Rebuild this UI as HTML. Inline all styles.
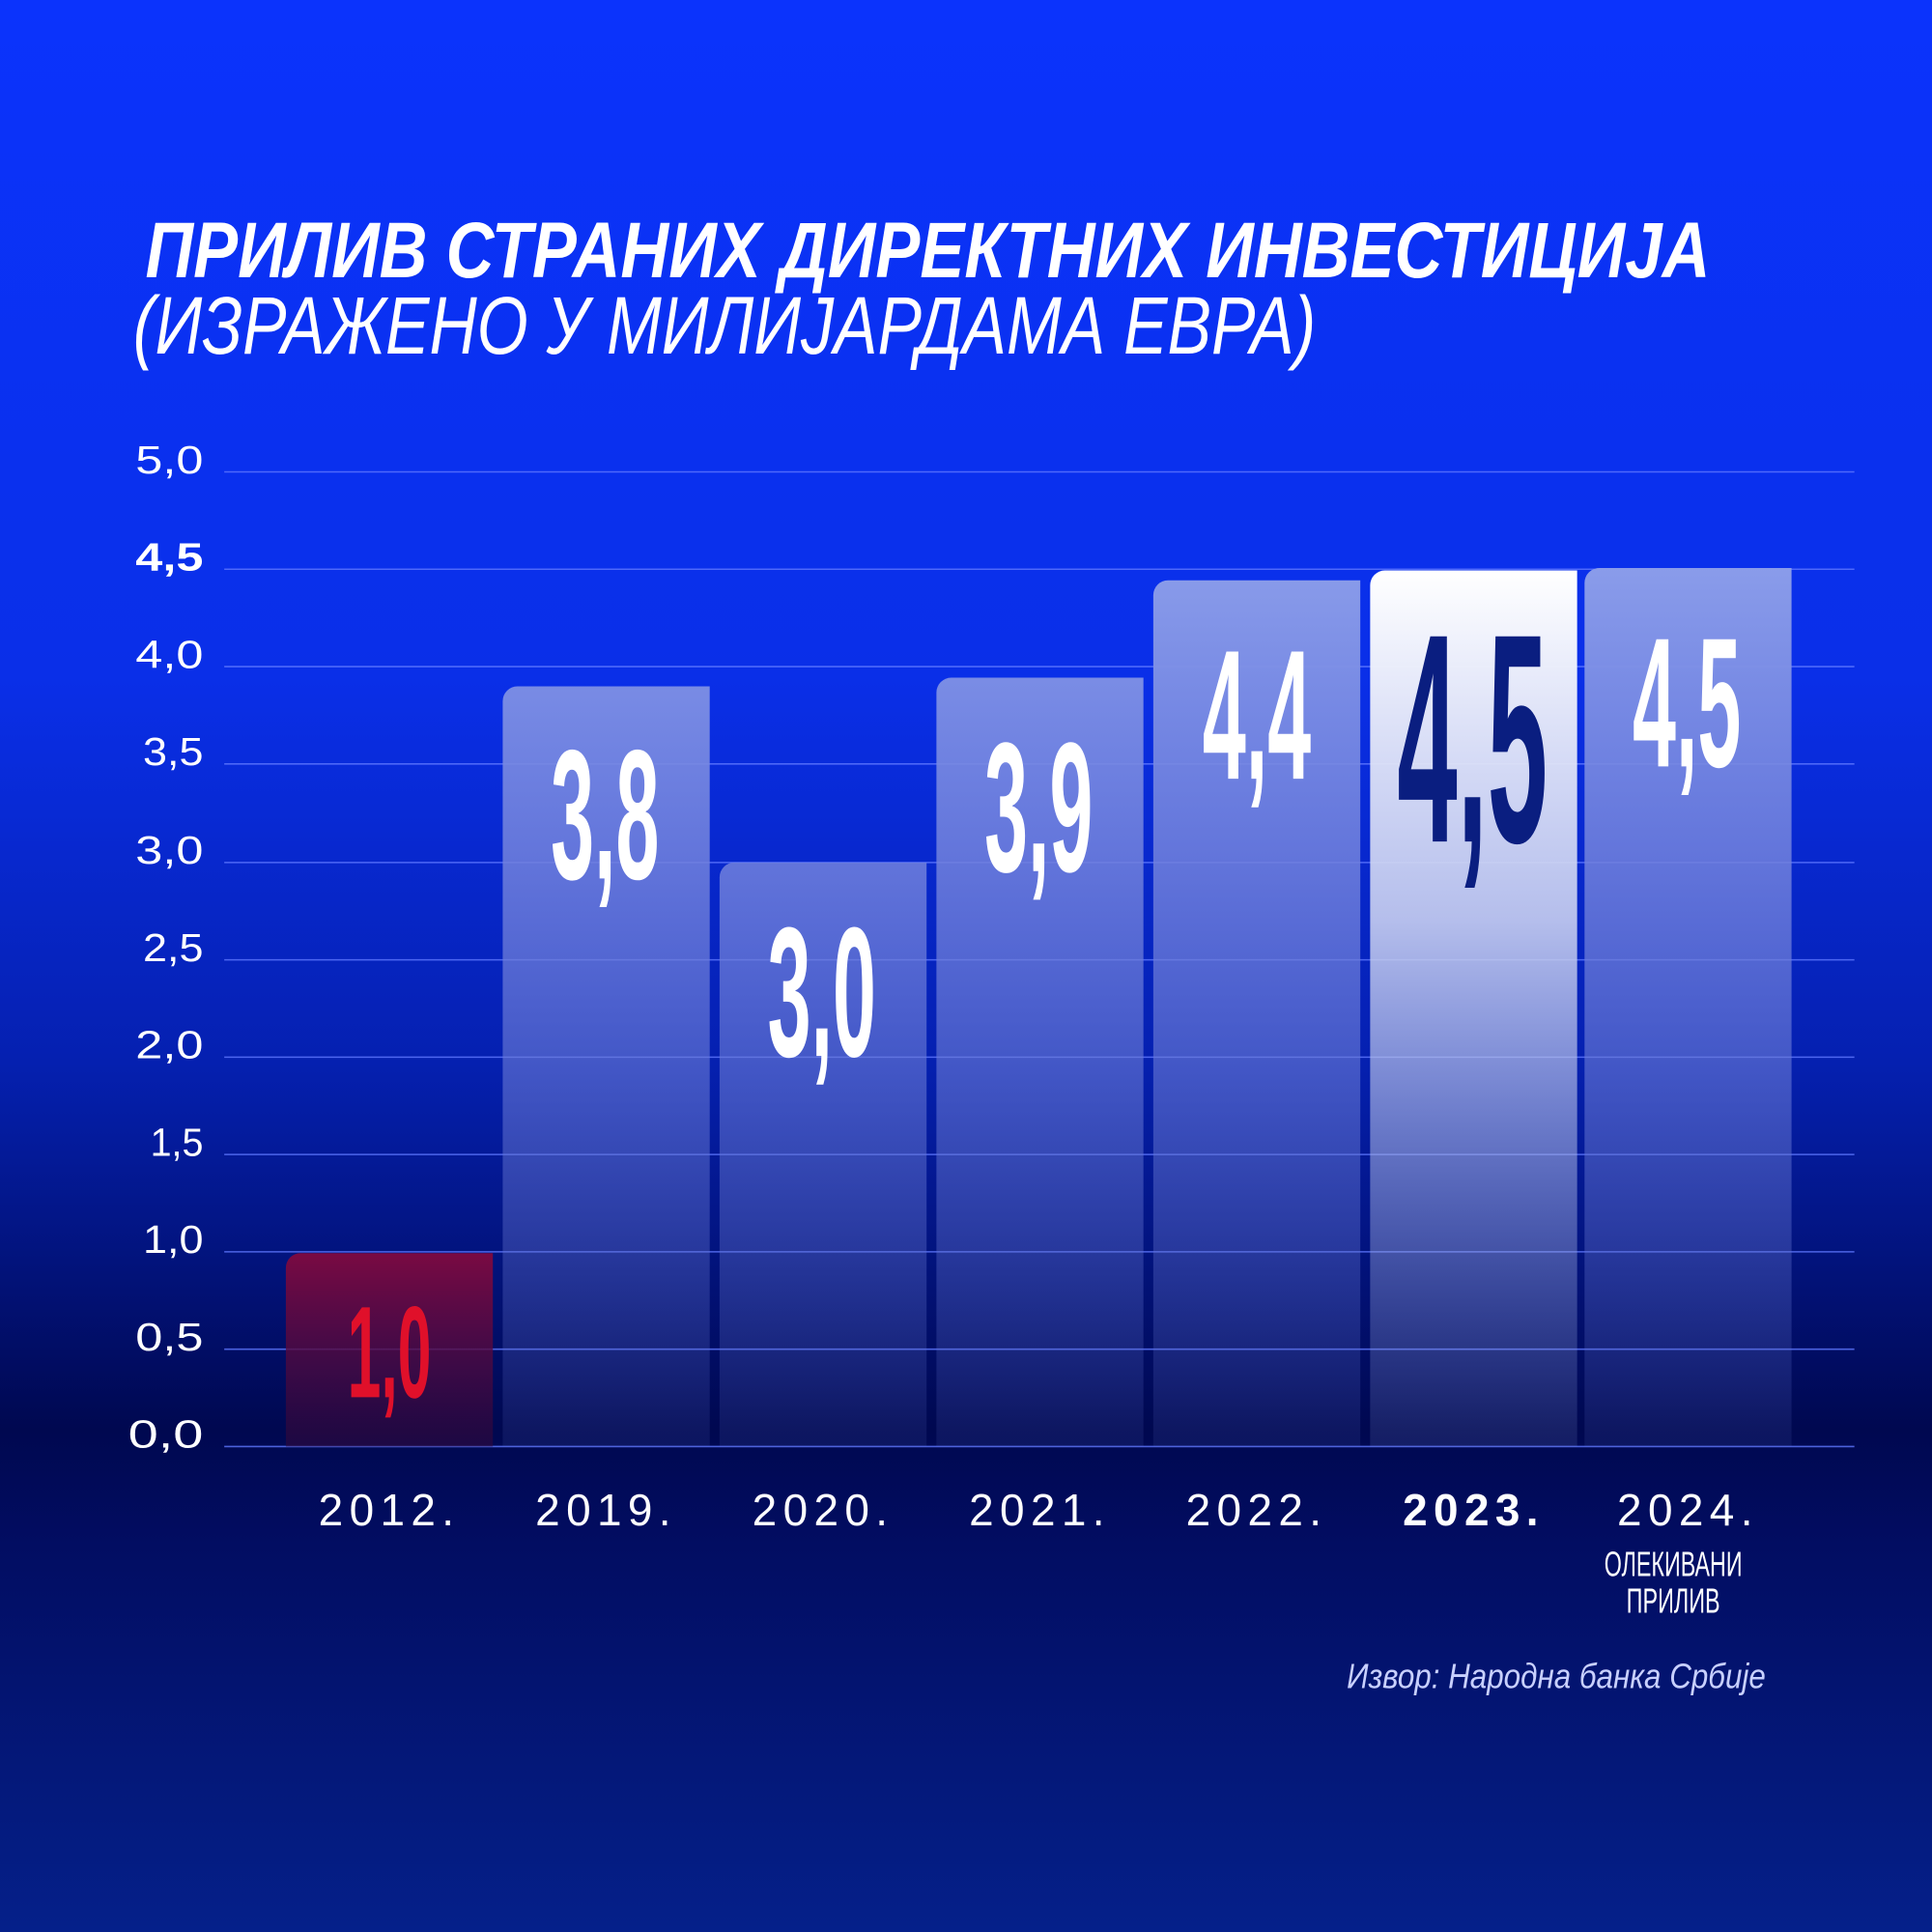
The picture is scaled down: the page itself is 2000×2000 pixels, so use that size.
<!DOCTYPE html>
<html><head><meta charset="utf-8"><style>html,body{margin:0;padding:0;width:2000px;height:2000px;overflow:hidden}</style></head>
<body>
<svg width="2000" height="2000" viewBox="0 0 1568 1568" xmlns="http://www.w3.org/2000/svg">
<defs>
<linearGradient id="bg" x1="0" y1="0" x2="0" y2="1">
<stop offset="0" stop-color="#0b33fc"/>
<stop offset="0.35" stop-color="#0a2fe8"/>
<stop offset="0.55" stop-color="#0520b0"/>
<stop offset="0.74" stop-color="#000850"/>
<stop offset="0.8" stop-color="#020d62"/>
<stop offset="1" stop-color="#05208a"/>
</linearGradient>
<linearGradient id="bar" gradientUnits="userSpaceOnUse" x1="0" y1="460" x2="0" y2="1174">
<stop offset="0" stop-color="#8a9cea" stop-opacity="1"/>
<stop offset="0.35" stop-color="#7080dc" stop-opacity="0.85"/>
<stop offset="1" stop-color="#6070c8" stop-opacity="0.12"/>
</linearGradient>
<linearGradient id="wbar" gradientUnits="userSpaceOnUse" x1="0" y1="463" x2="0" y2="1174">
<stop offset="0" stop-color="#ffffff"/>
<stop offset="0.4" stop-color="#c8cff0" stop-opacity="0.9"/>
<stop offset="1" stop-color="#8090d0" stop-opacity="0.15"/>
</linearGradient>
<linearGradient id="rbar" gradientUnits="userSpaceOnUse" x1="0" y1="1017" x2="0" y2="1174">
<stop offset="0" stop-color="#7a0a42"/>
<stop offset="1" stop-color="#30083a" stop-opacity="0.6"/>
</linearGradient>
</defs>
<rect width="1568" height="1568" fill="url(#bg)"/>
<g font-family="'Liberation Sans', sans-serif" fill="#fff">
<text x="118" y="225" font-size="64" font-weight="bold" font-style="italic" textLength="1270" lengthAdjust="spacingAndGlyphs">ПРИЛИВ СТРАНИХ ДИРЕКТНИХ ИНВЕСТИЦИЈА</text>
<text x="108" y="287" font-size="66" font-style="italic" textLength="960" lengthAdjust="spacingAndGlyphs">(ИЗРАЖЕНО У МИЛИЈАРДАМА ЕВРА)</text>
</g>
<g stroke="#5f78ff" stroke-width="1.2" opacity="0.8">
<line x1="182" x2="1505" y1="383" y2="383"/><line x1="182" x2="1505" y1="462" y2="462"/>
<line x1="182" x2="1505" y1="541" y2="541"/><line x1="182" x2="1505" y1="620" y2="620"/>
<line x1="182" x2="1505" y1="700" y2="700"/><line x1="182" x2="1505" y1="779" y2="779"/>
<line x1="182" x2="1505" y1="858" y2="858"/><line x1="182" x2="1505" y1="937" y2="937"/>
<line x1="182" x2="1505" y1="1016" y2="1016"/><line x1="182" x2="1505" y1="1095" y2="1095"/>
<line x1="182" x2="1505" y1="1174" y2="1174"/>
</g>
<g font-family="'Liberation Sans', sans-serif" fill="#fff" font-size="32">
<text x="110" y="384" textLength="55" lengthAdjust="spacingAndGlyphs">5,0</text>
<text x="110" y="463" font-weight="bold" textLength="55" lengthAdjust="spacingAndGlyphs">4,5</text>
<text x="110" y="542" textLength="55" lengthAdjust="spacingAndGlyphs">4,0</text>
<text x="116" y="621" textLength="49" lengthAdjust="spacingAndGlyphs">3,5</text>
<text x="110" y="701" textLength="55" lengthAdjust="spacingAndGlyphs">3,0</text>
<text x="116" y="780" textLength="49" lengthAdjust="spacingAndGlyphs">2,5</text>
<text x="110" y="859" textLength="55" lengthAdjust="spacingAndGlyphs">2,0</text>
<text x="122" y="938" textLength="43" lengthAdjust="spacingAndGlyphs">1,5</text>
<text x="116" y="1017" textLength="49" lengthAdjust="spacingAndGlyphs">1,0</text>
<text x="110" y="1096" textLength="55" lengthAdjust="spacingAndGlyphs">0,5</text>
<text x="104" y="1175" textLength="61" lengthAdjust="spacingAndGlyphs">0,0</text>
</g>
<path d="M232 1174V1029a12 12 0 0 1 12-12H400V1174Z" fill="url(#rbar)"/>
<path d="M408 1174V569a12 12 0 0 1 12-12H576V1174Z" fill="url(#bar)"/>
<path d="M584 1174V712a12 12 0 0 1 12-12H752V1174Z" fill="url(#bar)"/>
<path d="M760 1174V562a12 12 0 0 1 12-12H928V1174Z" fill="url(#bar)"/>
<path d="M936 1174V483a12 12 0 0 1 12-12H1104V1174Z" fill="url(#bar)"/>
<path d="M1112 1174V475a12 12 0 0 1 12-12H1280V1174Z" fill="url(#wbar)"/>
<path d="M1286 1174V473a12 12 0 0 1 12-12H1454V1174Z" fill="url(#bar)"/>
<g font-family="'Liberation Sans', sans-serif" font-weight="bold" text-anchor="middle" fill="#fff">
<text x="316" y="1134" font-size="106" fill="#e0102a" textLength="68" lengthAdjust="spacingAndGlyphs">1,0</text>
<text x="491" y="713" font-size="150" textLength="88" lengthAdjust="spacingAndGlyphs">3,8</text>
<text x="667" y="857" font-size="150" textLength="88" lengthAdjust="spacingAndGlyphs">3,0</text>
<text x="843" y="707" font-size="150" textLength="88" lengthAdjust="spacingAndGlyphs">3,9</text>
<text x="1020" y="632" font-size="150" textLength="88" lengthAdjust="spacingAndGlyphs">4,4</text>
<text x="1195" y="683" font-size="242" fill="#0a1e80" textLength="122" lengthAdjust="spacingAndGlyphs">4,5</text>
<text x="1369" y="622" font-size="150" textLength="88" lengthAdjust="spacingAndGlyphs">4,5</text>
</g>
<g font-family="'Liberation Sans', sans-serif" fill="#fff" font-size="36" text-anchor="middle" letter-spacing="5">
<text x="316" y="1238">2012.</text><text x="492" y="1238">2019.</text>
<text x="668" y="1238">2020.</text><text x="844" y="1238">2021.</text>
<text x="1020" y="1238">2022.</text><text x="1196" y="1238" font-weight="bold">2023.</text>
<text x="1370" y="1238">2024.</text>
</g>
<g font-family="'Liberation Sans', sans-serif" fill="#fff" font-size="28" text-anchor="middle">
<text x="1358" y="1279" textLength="112" lengthAdjust="spacingAndGlyphs">ОЛЕКИВАНИ</text>
<text x="1358" y="1309" textLength="76" lengthAdjust="spacingAndGlyphs">ПРИЛИВ</text>
</g>
<text x="1433" y="1370" font-family="'Liberation Sans', sans-serif" font-style="italic" font-size="28" fill="#c8d0ff" text-anchor="end" textLength="340" lengthAdjust="spacingAndGlyphs">Извор: Народна банка Србије</text>
</svg>
</body></html>
